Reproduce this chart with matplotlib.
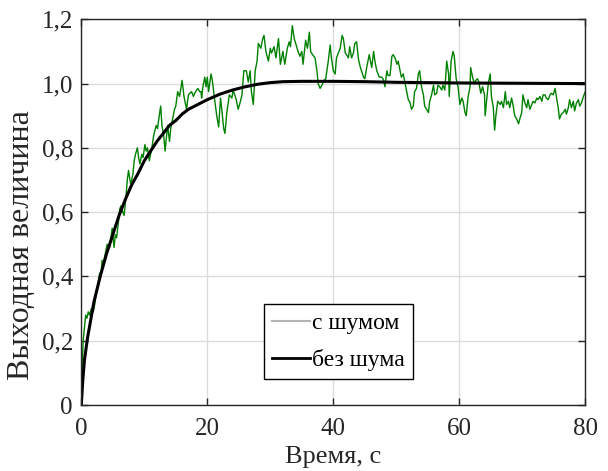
import numpy as np
import matplotlib
matplotlib.use("Agg")
import matplotlib.pyplot as plt
from matplotlib.lines import Line2D

plt.rcParams['font.family'] = ['Liberation Serif', 'DejaVu Serif']

# Noisy response
t_noisy = [0, 0.15, 0.3, 0.5, 0.7, 0.9, 1.1, 1.3, 1.6, 1.9, 2.1, 2.4, 2.7, 2.9, 3.1, 3.3,
           3.5, 3.7, 4.1, 4.3, 4.5, 4.9, 5.2, 5.4, 5.6, 5.9, 6.1, 6.3, 6.6, 6.8, 7.1, 7.3,
           7.5, 7.8, 8.0, 8.2, 8.4, 8.6, 8.9, 9.1, 9.3, 9.6, 9.8, 10.1, 10.3, 10.5, 10.8,
           11.0, 11.2, 11.5, 11.9, 12.1, 12.3, 12.6, 12.8, 13.1, 13.3, 13.5, 13.7, 14.0,
           14.2, 14.4, 14.8, 15.0, 15.3, 15.6, 16.0, 16.3, 16.5, 16.7, 17.0, 17.5, 17.8,
           18.0, 18.3, 18.5, 18.8, 19.0, 19.1, 19.3, 19.6, 19.8, 20.0, 20.2, 20.6, 20.8,
           21.1, 21.5, 21.8, 22.1, 22.3, 22.6, 22.8, 23.1, 23.5, 23.9, 24.1, 24.6, 24.9,
           25.2, 25.5, 25.8, 26.2, 26.5, 26.8, 27.0, 27.3, 27.6, 27.9, 28.1, 28.5, 28.8,
           29.0, 29.3, 29.7, 30.0, 30.2, 30.6, 30.9, 31.3, 31.6, 32.0, 32.3, 32.7, 33.0,
           33.2, 33.5, 33.8, 34.1, 34.4, 34.7, 35.0, 35.2, 35.6, 35.9, 36.2, 36.4, 36.7,
           37.1, 37.4, 37.6, 37.9, 38.2, 38.5, 38.8, 39.2, 39.5, 39.7, 40.0, 40.3, 40.5,
           40.8, 41.1, 41.4, 41.6, 41.9, 42.1, 42.4, 42.6, 42.9, 43.2, 43.4, 43.7, 44.0,
           44.3, 44.8, 45.0, 45.3, 45.7, 46.1, 46.4, 46.6, 46.9, 47.3, 47.7, 48.0, 48.2,
           48.5, 48.7, 49.0, 49.3, 49.5, 49.8, 50.1, 50.3, 50.6, 50.8, 51.1, 51.4, 51.6,
           51.9, 52.2, 52.4, 52.7, 52.9, 53.2, 53.5, 53.7, 54.0, 54.3, 54.5, 54.8, 55.1,
           55.3, 55.6, 55.9, 56.1, 56.4, 56.6, 56.9, 57.2, 57.4, 57.7, 58.0, 58.3, 58.4,
           58.7, 59.0, 59.2, 59.5, 59.8, 60.1, 60.4, 60.6, 60.9, 61.1, 61.4, 61.7, 61.8,
           62.1, 62.4, 62.6, 62.9, 63.1, 63.4, 63.7, 64.0, 64.1, 64.3, 64.6, 64.9, 65.1,
           65.4, 65.6, 65.8, 66.1, 66.5, 66.7, 67.0, 67.3, 67.5, 67.8, 68.0, 68.3, 68.6,
           68.8, 69.1, 69.4, 69.6, 69.9, 70.1, 70.4, 70.7, 70.9, 71.2, 71.5, 71.7, 72.0,
           72.3, 72.5, 72.8, 73.1, 73.3, 73.6, 73.8, 74.1, 74.4, 74.6, 74.9, 75.2, 75.4,
           75.7, 75.9, 76.2, 76.5, 76.8, 77.0, 77.3, 77.5, 77.8, 78.1, 78.3, 78.6, 78.9,
           79.1, 79.4, 79.7, 80.0]
v_noisy = [0, 0.12, 0.20, 0.24, 0.28, 0.27, 0.29, 0.28, 0.30, 0.29, 0.31, 0.35, 0.38, 0.41, 0.40, 0.45,
           0.44, 0.46, 0.50, 0.49, 0.49, 0.55, 0.49, 0.53, 0.52, 0.57, 0.61, 0.62, 0.60, 0.59, 0.65, 0.70,
           0.73, 0.69, 0.70, 0.72, 0.76, 0.78, 0.80, 0.77, 0.75, 0.78, 0.77, 0.81, 0.79, 0.80, 0.76,
           0.78, 0.80, 0.84, 0.87, 0.86, 0.89, 0.93, 0.87, 0.835, 0.79, 0.83, 0.87, 0.82,
           0.86, 0.88, 0.92, 0.93, 0.975, 0.96, 1.01, 0.96, 0.94, 0.92, 0.965, 0.975, 0.96,
           0.97, 0.98, 0.985, 0.975, 0.975, 0.955, 0.99, 1.02, 0.99, 1.02, 0.975, 1.03, 1.01,
           0.96, 0.90, 0.865, 0.955, 0.92, 0.86, 0.845, 0.91, 0.965, 0.955, 0.98, 0.95, 0.92,
           0.94, 0.965, 1.04, 1.04, 1.005, 1.04, 0.975, 0.935, 1.04, 1.07, 1.125, 1.11, 1.14,
           1.15, 1.10, 1.07, 1.11, 1.095, 1.115, 1.08, 1.14, 1.06, 1.10, 1.06, 1.11, 1.13,
           1.115, 1.18, 1.14, 1.12, 1.10, 1.085, 1.10, 1.06, 1.135, 1.11, 1.16, 1.10, 1.09,
           1.08, 1.04, 1.00, 0.985, 0.995, 1.01, 1.015, 1.07, 1.12, 1.08, 1.04, 1.03, 1.08,
           1.095, 1.11, 1.15, 1.14, 1.095, 1.09, 1.08, 1.115, 1.08, 1.095, 1.125, 1.13, 1.075,
           1.05, 1.02, 1.015, 1.05, 1.09, 1.05, 1.10, 1.07, 1.04, 1.02, 1.02, 1.01, 0.99,
           1.04, 1.025, 1.025, 1.085, 1.09, 1.08, 1.06, 1.07, 1.04, 1.02, 1.03, 1.0, 0.98,
           0.95, 0.94, 0.92, 0.93, 0.975, 0.985, 1.03, 1.04, 0.99, 0.965, 0.93, 0.92, 0.91,
           0.945, 0.965, 0.995, 0.965, 0.97, 0.995, 0.99, 0.98, 0.995, 0.98, 1.07, 1.03, 0.96,
           1.07, 1.10, 1.085, 1.015, 0.99, 0.935, 0.955, 0.945, 0.91, 0.90, 0.96, 0.99, 1.05,
           1.02, 1.0, 1.01, 1.015, 1.005, 0.97, 0.99, 0.965, 0.90, 0.94, 1.0, 1.03, 0.96,
           0.925, 0.855, 0.90, 0.945, 0.935, 0.945, 0.925, 0.975, 0.935, 0.945, 0.925, 0.955, 0.925,
           0.90, 0.89, 0.875, 0.89, 0.91, 0.965, 0.94, 0.925, 0.95, 0.92, 0.935, 0.945, 0.94,
           0.955, 0.95, 0.96, 0.945, 0.965, 0.965, 0.955, 0.95, 0.965, 0.97, 0.965, 0.985, 0.96,
           0.925, 0.89, 0.905, 0.91, 0.92, 0.905, 0.925, 0.95, 0.925, 0.945, 0.915, 0.94, 0.95,
           0.93, 0.94, 0.96, 0.975]

# Smooth response
t_smooth = [0, 0.25, 0.5, 1, 2, 3, 4, 5, 6, 7, 8, 9, 10, 11, 12, 13, 14, 15, 16, 17, 18, 19,
            20, 22, 24, 26, 28, 30, 32, 35, 40, 45, 50, 55, 60, 70, 80]
v_smooth = [0, 0.08, 0.14, 0.21, 0.32, 0.40, 0.47, 0.53, 0.59, 0.64, 0.685, 0.72, 0.76, 0.79,
            0.82, 0.845, 0.87, 0.885, 0.905, 0.92, 0.93, 0.94, 0.95, 0.967, 0.98, 0.99, 0.998,
            1.003, 1.006, 1.007, 1.007, 1.006, 1.004, 1.003, 1.002, 1.001, 1.0]

x_ticks = [0, 20, 40, 60, 80]
y_ticks = [0, 0.2, 0.4, 0.6, 0.8, 1.0, 1.2]
y_tick_labels = ['0', '0,2', '0,4', '0,6', '0,8', '1,0', '1,2']

fig = plt.figure(figsize=(6.08, 4.71), dpi=100)
ax = fig.add_axes([0.1337, 0.1401, 0.829, 0.8189])

ax.plot(t_noisy, v_noisy, color='#008000', lw=1.0)
ax.plot(t_smooth, v_smooth, color='black', lw=2.2)

ax.set_xlim(0, 80)
ax.set_ylim(0, 1.2)
ax.set_xticks(x_ticks)
ax.set_xticklabels([str(x) for x in x_ticks])
ax.set_yticks(y_ticks)
ax.set_yticklabels(y_tick_labels)
ax.grid(True, color='#dcdcdc', lw=1.0)
ax.tick_params(direction='in', top=True, right=True, length=5, width=1,
               labelsize=18, colors='#262626')
ax.tick_params(axis='x', pad=9)
ax.tick_params(axis='y', pad=6)
for sp in ax.spines.values():
    sp.set_color('#262626')
    sp.set_linewidth(1.0)

ax.set_xlabel('Время, с', fontsize=19, color='#262626', labelpad=5)
ax.set_ylabel('Выходная величина', fontsize=23, color='#262626')
ax.yaxis.set_label_coords(-0.09, 0.415)

handles = [Line2D([], [], color='#b4b4b4', lw=1.5),
           Line2D([], [], color='black', lw=2.0)]
leg = ax.legend(handles, ['с шумом', 'без шума'], loc='lower left',
                bbox_to_anchor=(0.3625, 0.067), borderaxespad=0, fontsize=17,
                fancybox=False, framealpha=1, edgecolor='black',
                handlelength=1.6, handletextpad=0.1, borderpad=0.35, labelspacing=0.62)
leg.get_frame().set_linewidth(1.0)

fig.savefig('out.png', dpi=100)
